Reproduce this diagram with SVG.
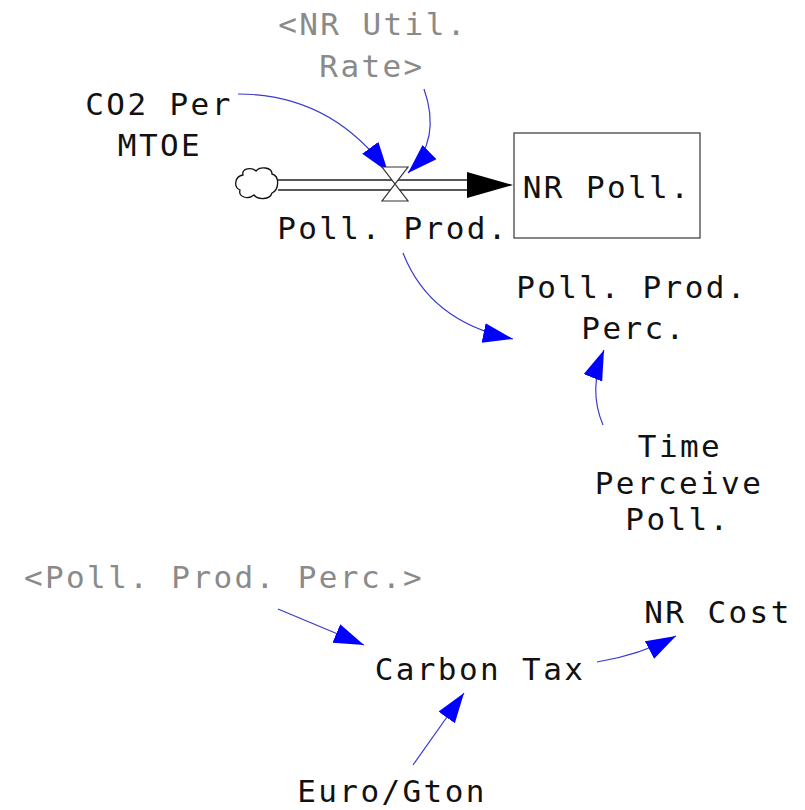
<svg xmlns="http://www.w3.org/2000/svg" width="805" height="810" viewBox="0 0 805 810">
<style>
text{font-family:"DejaVu Sans Mono","Liberation Mono",monospace;font-size:31px;letter-spacing:2.4px;text-anchor:middle;fill:#111}
.ghost{fill:#8a8a8a}
.link{fill:none;stroke:#3a3ad0;stroke-width:1.2}
</style>
<defs>
<marker id="ah" markerUnits="userSpaceOnUse" markerWidth="32" markerHeight="22" refX="30" refY="10" orient="auto">
<path d="M0,0 L30,10 L0,20 Z" fill="#0000ff"/>
</marker>
</defs>
<rect width="805" height="810" fill="#fff"/>
<g id="connectors">
<path class="link" d="M238,94 C300,94 350,120 388,172" marker-end="url(#ah)"/>
<path class="link" d="M424,89 Q442,140 408,173" marker-end="url(#ah)"/>
<path class="link" d="M403,253 Q430,322 513,339" marker-end="url(#ah)"/>
<path class="link" d="M603,425 Q588,390 604,350" marker-end="url(#ah)"/>
<path class="link" d="M278,609 L364,645" marker-end="url(#ah)"/>
<path class="link" d="M597,662 Q640,655 676,636" marker-end="url(#ah)"/>
<path class="link" d="M413,765 L464,693" marker-end="url(#ah)"/>
</g>
<g id="flow-poll-prod">
<path d="M278,180 L470,180 M278,190 L470,190" stroke="#222" stroke-width="1.3" fill="none"/>
<rect x="278" y="181" width="192" height="8" fill="#fff"/>
<path d="M467,172 L513,185 L467,198 Z" fill="#000"/>
<path d="M382,167 L408,167 L382,201 L408,201 Z" fill="#fff" stroke="#333" stroke-width="1.2"/>
<text x="393" y="239">Poll. Prod.</text>
</g>
<g id="cloud">
<path d="M243,175 C241,168 252,167 256,171 C260,166 272,167 272,174 C280,176 279,190 272,193 C270,200 258,200 254,195 C248,200 238,197 240,190 C233,187 235,176 243,175 Z" fill="#fff" stroke="#111" stroke-width="1.3"/>
</g>
<g id="stock-nr-poll">
<rect x="514" y="133" width="186" height="105" fill="#fff" stroke="#444" stroke-width="1.3"/>
<text x="607" y="198">NR Poll.</text>
</g>
<g id="nr-util-rate">
<text class="ghost" x="373" y="35">&lt;NR Util.</text>
<text class="ghost" x="372" y="77">Rate&gt;</text>
</g>
<g id="co2-per-mtoe">
<text x="159" y="115">CO2 Per</text>
<text x="160" y="156">MTOE</text>
</g>
<g id="poll-prod-perc">
<text x="632" y="298">Poll. Prod.</text>
<text x="634" y="339">Perc.</text>
</g>
<g id="time-perceive-poll">
<text x="680" y="457">Time</text>
<text x="679" y="494">Perceive</text>
<text x="678" y="530">Poll.</text>
</g>
<g id="poll-prod-perc-shadow">
<text class="ghost" x="224" y="588">&lt;Poll. Prod. Perc.&gt;</text>
</g>
<g id="carbon-tax">
<text x="480" y="680">Carbon Tax</text>
</g>
<g id="nr-cost">
<text x="718" y="623">NR Cost</text>
</g>
<g id="euro-gton">
<text x="392" y="802">Euro/Gton</text>
</g>
</svg>
